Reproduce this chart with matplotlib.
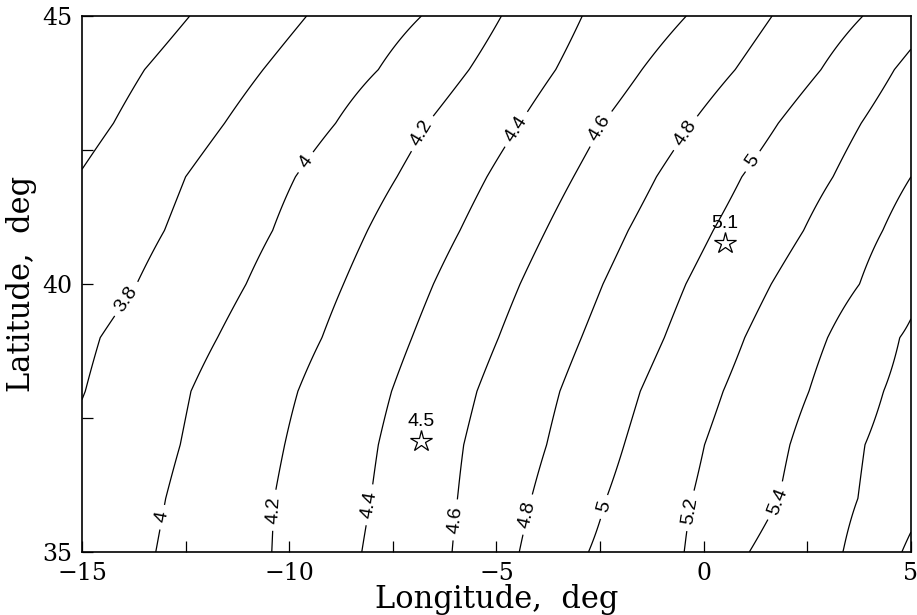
import numpy as np
import matplotlib.pyplot as plt
from matplotlib.ticker import MultipleLocator

plt.rcParams['font.family'] = 'Liberation Sans'

lats = [35, 36, 37, 38, 39, 40, 41, 42, 43, 44, 45]

# contour levels, every 0.2
levels = [3.6, 3.8, 4.0, 4.2, 4.4, 4.6, 4.8, 5.0, 5.2, 5.4, 5.6, 5.8]

# longitude where each contour crosses the latitudes above
lon_36 = [-19.5, -19.0, -18.5, -17.9, -17.3, -16.6, -15.9, -15.12, -14.24, -13.49, -12.40]
lon_38 = [-16.2, -15.8, -15.4, -14.92, -14.56, -13.68, -13.01, -12.50, -11.56, -10.63, -9.58]
lon_40 = [-13.22, -12.98, -12.63, -12.37, -11.73, -11.04, -10.40, -9.85, -8.88, -7.85, -6.81]
lon_42 = [-10.42, -10.36, -10.11, -9.79, -9.21, -8.69, -8.11, -7.40, -6.66, -5.66, -4.88]
lon_44 = [-8.25, -8.03, -7.85, -7.53, -7.04, -6.52, -5.88, -5.23, -4.43, -3.57, -2.93]
lon_46 = [-6.07, -5.94, -5.79, -5.47, -4.95, -4.43, -3.81, -3.14, -2.43, -1.49, -0.42]
lon_48 = [-4.45, -4.16, -3.79, -3.47, -2.95, -2.43, -1.82, -1.14, -0.28, 0.76, 1.65]
lon_50 = [-2.78, -2.35, -1.92, -1.53, -0.95, -0.43, 0.23, 0.92, 1.80, 2.83, 3.84]
lon_52 = [-0.47, -0.28, 0.02, 0.47, 0.99, 1.63, 2.41, 3.12, 3.80, 4.60, 5.65]
lon_54 = [1.10, 1.82, 2.08, 2.54, 2.99, 3.76, 4.32, 5.0, 5.7, 6.4, 7.1]
lon_56 = [3.36, 3.72, 3.89, 4.34, 4.73, 5.3, 5.9, 6.5, 7.1, 7.7, 8.3]
lon_58 = [4.78, 5.45, 6.1, 6.7, 7.3, 7.9, 8.5, 9.1, 9.7, 10.3, 10.9]

# where the contour labels sit (lon, lat)
label_top = [(-13.89, 39.70), (-9.58, 42.26), (-6.73, 42.78), (-4.49, 42.87),
             (-2.52, 42.91), (-0.49, 42.84), (1.14, 42.31)]
label_bottom = [(-13.07, 35.65), (-10.37, 35.78), (-8.06, 35.88), (-6.01, 35.60),
                (-4.20, 35.69), (-2.40, 35.84), (-0.18, 35.75), (1.82, 35.93)]

# stations marked with stars
star_lon = [-6.82, 0.52]
star_lat = [37.07, 40.77]
star_txt = ['4.5', '5.1']

crossings = [lon_36, lon_38, lon_40, lon_42, lon_44, lon_46,
             lon_48, lon_50, lon_52, lon_54, lon_56, lon_58]

# build the gridded field row by row from the crossings
lon_grid = np.linspace(-15, 5, 801)
Z = np.empty((len(lats), len(lon_grid)))
lv = np.array(levels)
for i in range(len(lats)):
    xs = np.array([c[i] for c in crossings])
    # pad the ends so the field keeps rising past the outer contours
    xs_ext = np.r_[xs[0] - 20, xs, xs[-1] + 20]
    zs_ext = np.r_[lv[0] - 20 * (lv[1] - lv[0]) / (xs[1] - xs[0]), lv,
                   lv[-1] + 20 * (lv[-1] - lv[-2]) / (xs[-1] - xs[-2])]
    Z[i] = np.interp(lon_grid, xs_ext, zs_ext)

fig = plt.figure(figsize=(9.17, 6.15), dpi=100)
ax = fig.add_axes([0.0894, 0.1024, 0.9040, 0.8716])

cs = ax.contour(lon_grid, lats, Z, levels=levels, colors='k', linewidths=0.9)
# all levels passed so manual placement indexes correctly; only the
# positions listed get a label
ax.clabel(cs, manual=label_top + label_bottom,
          fmt='%g', fontsize=14, inline=True, inline_spacing=7)

ax.plot(star_lon, star_lat, ls='none', marker='*', ms=16,
        mfc='white', mec='k', mew=0.9)
for x, y, t in zip(star_lon, star_lat, star_txt):
    ax.annotate(t, (x, y), xytext=(0, 8), textcoords='offset points',
                ha='center', va='bottom', fontsize=14)

ax.set_xlim(-15, 5)
ax.set_ylim(35, 45)
ax.xaxis.set_major_locator(MultipleLocator(5))
ax.xaxis.set_minor_locator(MultipleLocator(2.5))
ax.yaxis.set_major_locator(MultipleLocator(5))
ax.yaxis.set_minor_locator(MultipleLocator(2.5))
ax.tick_params(which='both', direction='in', length=8, width=0.9,
               top=False, right=False)
ax.tick_params(which='major', labelsize=17, pad=7, labelfontfamily='DejaVu Serif')
for s in ax.spines.values():
    s.set_linewidth(1.2)

ax.set_xlabel('Longitude,  deg', fontsize=22, family='DejaVu Serif')
ax.set_ylabel('Latitude,  deg', fontsize=22, family='DejaVu Serif')
ax.xaxis.set_label_coords(0.5, -0.06)
ax.yaxis.set_label_coords(-0.054, 0.5)

fig.savefig('out.png', dpi=100)
